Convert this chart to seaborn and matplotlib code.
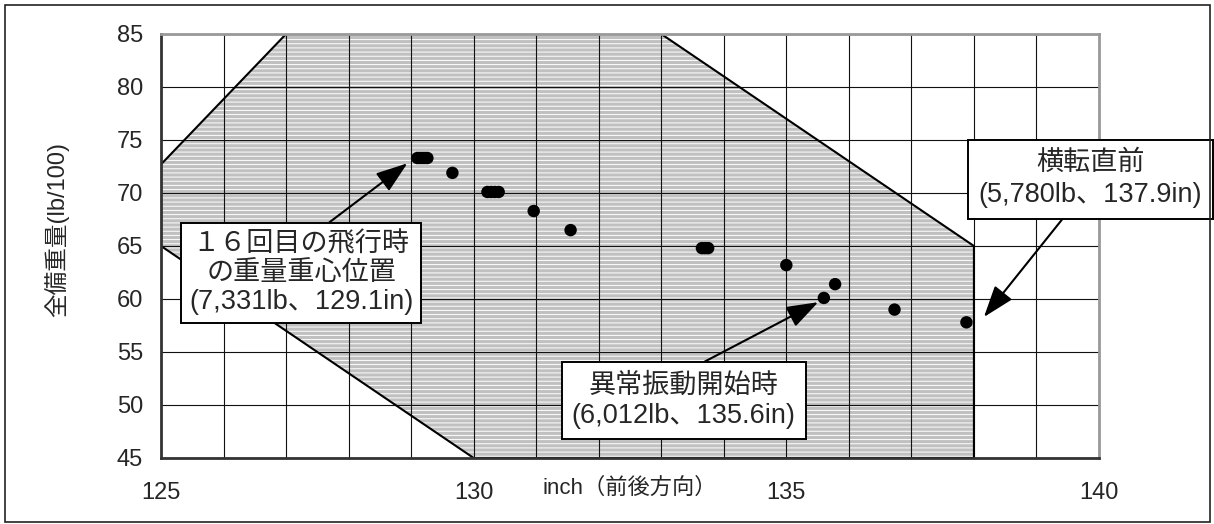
import numpy as np
import matplotlib
matplotlib.use('Agg')
import matplotlib.pyplot as plt
import seaborn as sns
from matplotlib.ticker import MultipleLocator
from matplotlib.patches import Rectangle

sns.set_style('white')
plt.rcParams['font.family'] = ['Liberation Sans', 'Noto Sans CJK JP', 'DejaVu Sans']
plt.rcParams['hatch.linewidth'] = 0.7

# envelope of allowed weight / CG (inch, lb/100)
env_x = [125, 125, 127, 133, 138, 138, 130]
env_y = [65, 72.7, 85, 85, 65, 45, 45]

# recorded weight / CG points
cg_x = [129.10, 129.14, 129.18, 129.22, 129.26, 129.66,
        130.22, 130.28, 130.34, 130.40, 130.96, 131.55,
        133.65, 133.70, 133.75, 135.0, 135.6, 135.78, 136.73, 137.88]
cg_y = [73.3, 73.3, 73.3, 73.3, 73.3, 71.9,
        70.1, 70.1, 70.1, 70.1, 68.3, 66.5,
        64.8, 64.8, 64.8, 63.2, 60.1, 61.4, 59.0, 57.8]

notes = ['１６回目の飛行時\nの重量重心位置\n(7,331lb、129.1in)',
         '異常振動開始時\n(6,012lb、135.6in)',
         '横転直前\n(5,780lb、137.9in)']
note_tip = [(128.94, 72.8), (135.51, 59.7), (138.16, 58.3)]
note_pos = [(127.24, 62.45), (133.36, 50.4), (139.86, 71.3)]
note_rel = [(0.575, 1.0), (0.5, 1.0), (0.415, 0.0)]
note_pad = [0.3, 0.38, 0.4]
note_ls = [1.15, 1.22, 1.28]

fig = plt.figure(figsize=(12.14, 5.24), dpi=100)
ax = fig.add_axes([161/1214, 1-458/524, 938/1214, 424/524])

ax.fill(env_x, env_y, facecolor='#c0c0c0', edgecolor='white', hatch='----',
        linewidth=0, zorder=0.2)
ax.plot(env_x + env_x[:1], env_y + env_y[:1], color='black', lw=1.5, zorder=2)

sns.scatterplot(x=cg_x, y=cg_y, color='black', s=80, edgecolor='none',
                ax=ax, zorder=4)

ax.set_xlim(125, 140)
ax.set_ylim(45, 85)
ax.xaxis.set_major_locator(MultipleLocator(5))
ax.xaxis.set_minor_locator(MultipleLocator(1))
ax.yaxis.set_major_locator(MultipleLocator(5))
ax.set_axisbelow(True)
ax.grid(True, which='both', color='#111111', lw=0.8)
ax.tick_params(axis='both', which='major', direction='in', length=5, width=1.5,
               labelsize=17, color='#222222')
ax.tick_params(axis='x', which='major', pad=17)
ax.tick_params(axis='y', which='major', pad=13)
ax.tick_params(axis='x', which='minor', length=0)

for side in ['left', 'bottom']:
    ax.spines[side].set_color('#333333')
    ax.spines[side].set_linewidth(2)
for side in ['top', 'right']:
    ax.spines[side].set_color('#999999')
    ax.spines[side].set_linewidth(2)

ax.set_xlabel('inch（前後方向）', fontsize=16)
ax.xaxis.set_label_coords(0.5, -0.071)
ax.xaxis.label.set_verticalalignment('center')
ax.set_ylabel('全備重量(lb/100)', fontsize=17)
ax.yaxis.set_label_coords(-0.111, 0.538)
ax.yaxis.label.set_verticalalignment('center')

for txt, tip, pos, rel, pad, ls in zip(notes, note_tip, note_pos, note_rel, note_pad, note_ls):
    ax.annotate(txt, xy=tip, xytext=pos, fontsize=19.5, ha='center', va='center',
                linespacing=ls, annotation_clip=False, zorder=6,
                bbox=dict(boxstyle='square,pad=%s' % pad, fc='white', ec='black', lw=1.4),
                arrowprops=dict(arrowstyle='-|>,head_length=1.0,head_width=0.35',
                                color='black', lw=1.5, relpos=rel,
                                shrinkA=0, shrinkB=0))

fig.add_artist(Rectangle((5/1214, 2/524), 1205/1214, 517/524,
                         transform=fig.transFigure, fill=False,
                         ec='#222222', lw=1.2))

fig.savefig('out.png', dpi=100)
